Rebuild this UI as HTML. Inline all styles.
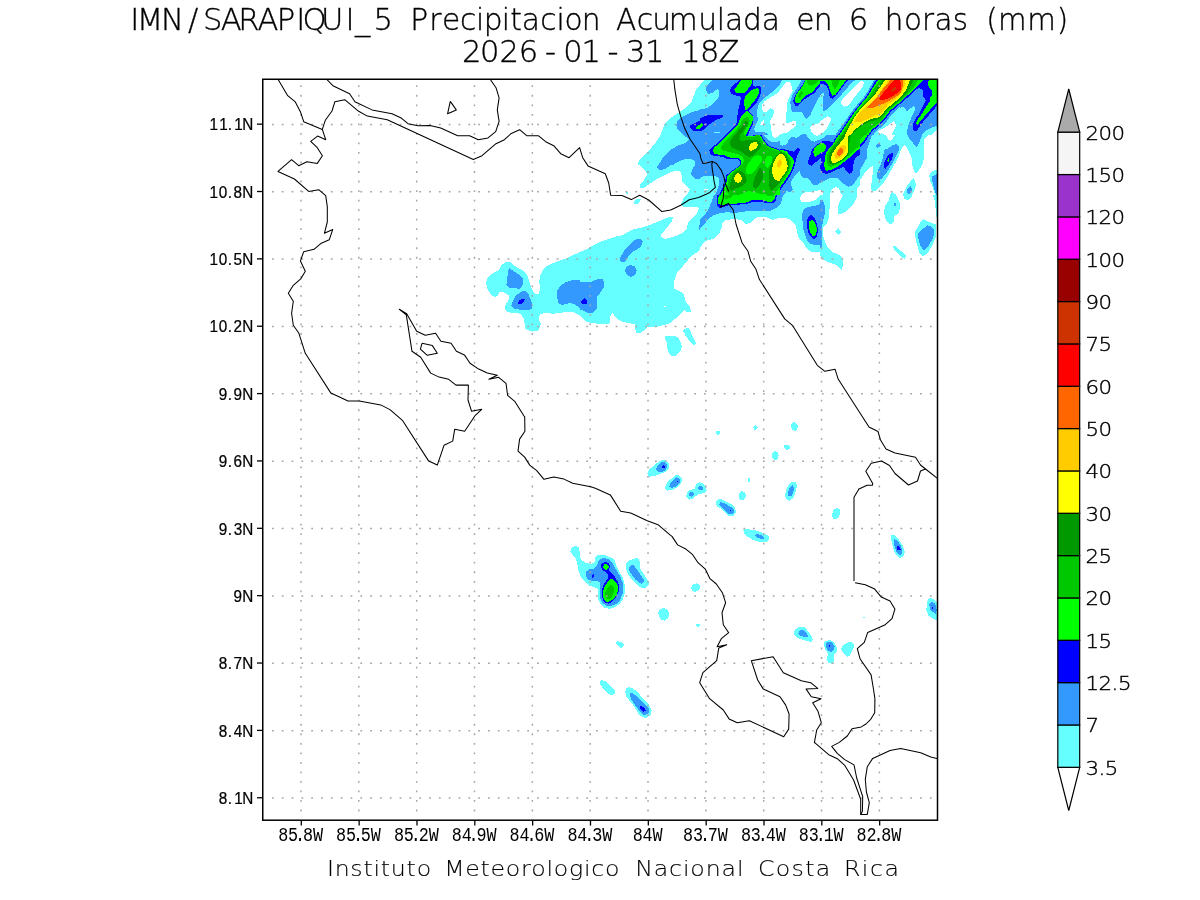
<!DOCTYPE html>
<html lang="es"><head><meta charset="utf-8">
<title>IMN/SARAPIQUI_5 Precipitacion Acumulada en 6 horas (mm)</title>
<style>
html,body{margin:0;padding:0;background:#fff;}
body{width:1200px;height:900px;overflow:hidden;}
svg{display:block;}
text{font-kerning:none;white-space:pre;}
.t{font-family:'DejaVu Sans Light','DejaVu Sans','Liberation Sans',sans-serif;font-weight:200;fill:#000;stroke:#000;stroke-width:0.35px;}
.cb{font-family:'DejaVu Sans Light','DejaVu Sans','Liberation Sans',sans-serif;font-weight:200;fill:#000;stroke:#000;stroke-width:0.4px;}
.k{font-family:'Liberation Mono','DejaVu Sans Mono',monospace;fill:#000;}
.ks{font-family:'Liberation Sans','DejaVu Sans',sans-serif;fill:#000;stroke:#000;stroke-width:0.25px;}
.f{font-family:'DejaVu Sans Light','DejaVu Sans','Liberation Sans',sans-serif;font-weight:200;fill:#000;stroke:#000;stroke-width:0.12px;}
</style></head><body>
<svg width="1200" height="900" viewBox="0 0 1200 900">
<rect x="0" y="0" width="1200" height="900" fill="#fff"/>
<defs><clipPath id="c"><rect x="262.75" y="79.25" width="674.75" height="740.95"/></clipPath></defs>
<g clip-path="url(#c)">
<defs>
<clipPath id="t0"><rect x="460" y="225" width="120" height="120"/></clipPath>
<clipPath id="t1"><rect x="580" y="75" width="120" height="90"/></clipPath>
<clipPath id="t2"><rect x="580" y="165" width="120" height="90"/></clipPath>
<clipPath id="t3"><rect x="580" y="255" width="120" height="90"/></clipPath>
<clipPath id="t4"><rect x="700" y="75" width="80" height="60"/></clipPath>
<clipPath id="t5"><rect x="700" y="135" width="80" height="60"/></clipPath>
<clipPath id="t6"><rect x="700" y="195" width="120" height="90"/></clipPath>
<clipPath id="t7"><rect x="780" y="75" width="40" height="60"/></clipPath>
<clipPath id="t8"><rect x="820" y="75" width="80" height="60"/></clipPath>
<clipPath id="t9"><rect x="900" y="75" width="40" height="60"/></clipPath>
<clipPath id="t10"><rect x="780" y="135" width="80" height="60"/></clipPath>
<clipPath id="t11"><rect x="820" y="195" width="120" height="90"/></clipPath>
<clipPath id="t12"><rect x="860" y="135" width="80" height="60"/></clipPath>
</defs>
<g shape-rendering="crispEdges" stroke="none">
<g clip-path="url(#t0)">
<rect x="460" y="225" width="120" height="120" fill="#ffffff"/>
<polygon fill="#66ffff" points="580.0,252.3 574.7,254.3 566.7,258.3 558.7,261.0 552.0,263.7 546.7,266.3 542.7,270.3 540.0,275.7 539.3,282.3 540.0,289.0 538.7,293.7 534.7,293.7 532.0,289.0 529.3,281.0 526.7,274.3 522.7,270.3 517.3,267.7 513.3,265.0 510.7,262.3 505.3,262.3 501.3,265.0 498.7,270.3 493.3,273.0 488.0,277.0 486.0,282.3 487.3,289.0 490.7,294.3 494.7,297.0 498.0,295.7 499.3,292.3 504.0,292.3 509.3,295.7 508.7,299.7 505.3,305.0 504.7,309.0 508.0,312.3 514.7,313.0 520.0,313.7 524.0,318.3 524.7,325.0 525.3,329.0 532.0,331.7 537.3,331.0 540.0,327.7 540.7,323.7 538.7,318.3 540.0,314.3 545.3,313.0 553.3,313.7 561.3,313.0 566.7,311.7 572.0,311.7 577.3,314.3 580.0,315.7"/>
<polygon fill="#3399ff" points="509.3,268.3 513.3,271.0 518.7,274.3 522.7,278.3 523.3,283.7 521.3,287.7 518.7,289.0 514.7,287.7 509.3,287.7 506.4,285.0 507.3,278.3 508.0,271.7"/>
<polygon fill="#3399ff" points="524.0,290.3 528.0,293.0 530.7,299.7 532.7,305.0 532.0,309.0 528.0,310.3 521.3,309.7 514.7,309.0 511.3,306.3 512.7,301.0 516.0,295.7 520.0,292.3"/>
<polygon fill="#3399ff" points="580.0,279.7 572.0,280.3 565.3,282.3 560.0,286.3 556.7,291.7 557.3,298.3 558.7,303.7 562.7,305.0 569.3,303.0 573.3,303.7 577.3,306.3 580.0,308.3"/>
<polygon fill="#0000ff" points="520.7,299.4 524.7,299.0 524.0,301.7 522.0,303.7 518.0,303.7 518.7,301.0"/>
</g>
<g clip-path="url(#t1)">
<rect x="580" y="75" width="120" height="90" fill="#ffffff"/>
<polygon fill="#66ffff" points="637.5,165.0 639.0,160.0 644.0,155.0 650.0,149.5 656.0,142.0 660.0,136.0 663.0,129.0 665.0,123.0 670.0,118.0 676.0,114.5 684.0,109.0 688.0,105.0 692.0,101.0 694.0,95.0 696.0,90.0 700.0,85.5 700.0,165.0"/>
<polygon fill="#3399ff" points="700.0,110.0 695.0,111.0 689.0,113.5 683.0,116.5 678.0,120.0 676.0,125.0 678.0,130.0 682.0,134.0 689.5,139.5 685.0,143.0 678.0,145.5 672.0,149.0 666.0,154.0 662.0,159.0 658.5,165.0 700.0,165.0"/>
<polygon fill="#66ffff" points="673.0,165.0 676.0,163.0 681.0,160.5 686.0,158.5 691.0,158.5 694.5,161.0 695.0,165.0"/>
<polygon fill="#0000ff" points="700.0,120.5 695.0,122.8 690.5,125.5 690.0,127.5 691.5,129.5 695.0,131.5 700.0,131.0"/>
<polygon fill="#00ff00" points="700.0,124.5 697.0,126.0 696.0,128.5 700.0,129.0"/>
</g>
<g clip-path="url(#t2)">
<rect x="580" y="165" width="120" height="90" fill="#ffffff"/>
<polygon fill="#66ffff" points="639.0,165.0 642.0,168.0 646.0,171.0 647.0,175.0 644.0,180.0 640.0,185.0 640.5,187.5 644.0,187.5 648.0,185.0 653.0,181.5 659.0,178.0 665.0,175.0 671.0,172.0 676.0,170.5 680.0,171.0 681.5,175.0 682.0,181.0 685.0,185.0 690.0,189.0 688.0,193.0 684.0,197.0 682.0,202.0 681.0,205.0 684.0,207.0 690.0,207.0 696.0,206.5 699.0,208.0 697.0,213.0 692.0,218.0 688.0,223.0 687.0,228.0 684.0,232.0 678.0,235.0 671.0,237.5 665.0,239.0 662.0,238.0 661.0,235.0 665.0,230.0 669.0,225.0 672.0,221.0 673.0,217.0 669.0,217.0 663.0,219.5 657.0,222.0 650.0,225.0 642.0,227.5 634.0,229.0 628.0,232.0 623.0,235.0 616.0,236.5 608.0,239.0 600.0,242.0 592.0,246.0 586.0,249.5 580.0,252.0 580.0,255.0 700.0,255.0 700.0,165.0"/>
<polygon fill="#ffffff" points="700.0,250.0 696.0,253.0 693.0,255.0 700.0,255.0"/>
<polygon fill="#66ffff" points="626.0,191.5 627.5,191.5 628.0,194.0 626.5,194.0"/>
<polygon fill="#66ffff" points="637.0,199.0 640.5,199.5 640.0,202.0 637.0,204.5 634.0,203.5 634.5,201.0"/>
<polygon fill="#3399ff" points="658.0,165.0 657.0,168.0 660.0,170.5 665.0,169.0 669.0,166.5 670.0,165.0"/>
<polygon fill="#3399ff" points="695.0,165.0 692.0,170.0 691.0,175.0 695.0,178.5 700.0,179.0 700.0,165.0"/>
<polygon fill="#3399ff" points="640.0,239.0 643.0,241.0 641.0,247.0 636.0,250.0 631.0,253.0 629.0,255.0 622.0,255.0 624.0,251.0 628.0,246.0 632.0,242.0 636.0,239.5"/>
<polygon fill="#3399ff" points="699.0,225.0 700.0,225.0 700.0,230.0 699.0,230.0"/>
</g>
<g clip-path="url(#t3)">
<rect x="580" y="255" width="120" height="90" fill="#ffffff"/>
<polygon fill="#66ffff" points="580.0,255.0 692.0,255.0 688.0,260.0 683.0,266.0 677.0,273.0 674.5,280.0 673.5,288.0 678.0,290.5 683.0,293.0 685.0,298.0 686.0,303.0 690.0,306.0 691.0,312.0 688.0,312.5 684.0,310.0 680.0,314.0 675.0,319.0 670.0,323.0 664.0,325.0 658.0,326.5 652.0,326.5 647.0,327.0 643.0,331.0 640.0,333.5 636.0,332.5 635.0,327.0 634.5,324.0 628.0,323.0 622.0,321.5 617.0,319.0 614.0,315.0 612.0,313.0 610.0,317.0 609.5,323.0 608.0,324.5 600.0,324.0 592.0,323.0 586.0,322.0 583.0,319.0 580.0,316.0"/>
<polygon fill="#ffffff" points="664.0,306.0 666.0,306.0 666.0,307.0 664.0,307.0"/>
<polygon fill="#66ffff" points="665.0,336.0 670.0,336.5 675.0,336.0 678.5,338.0 680.0,342.0 681.0,345.0 668.0,345.0 666.0,341.0 664.5,338.0"/>
<polygon fill="#66ffff" points="687.0,328.0 690.0,329.0 691.5,334.0 694.0,340.0 696.0,343.0 694.0,345.0 690.0,340.0 686.0,335.0 683.0,332.0 684.0,329.0"/>
<polygon fill="#3399ff" points="621.0,255.0 620.0,260.0 622.0,262.5 625.0,262.0 627.0,259.0 629.0,255.0"/>
<polygon fill="#3399ff" points="630.0,265.0 634.5,266.5 636.8,270.5 635.0,275.0 631.0,276.8 627.0,275.0 625.0,271.0 626.0,267.0"/>
<polygon fill="#3399ff" points="580.0,281.5 586.0,282.5 592.0,281.5 598.0,279.0 603.0,279.5 604.5,283.0 603.5,288.0 600.0,293.0 597.0,297.0 596.5,303.0 596.5,309.0 593.0,312.5 587.0,312.5 582.0,310.0 580.0,309.5"/>
<polygon fill="#0000ff" points="584.0,298.0 586.5,300.5 587.0,304.0 582.0,304.0 581.0,301.0"/>
</g>
<g clip-path="url(#t4)">
<rect x="700" y="75" width="80" height="60" fill="#3399ff"/>
<polygon fill="#66ffff" points="700.0,75.0 713.0,75.0 713.0,79.3 710.0,82.3 706.7,85.7 706.0,90.3 708.0,94.3 713.3,92.3 717.3,89.0 719.0,90.3 719.0,95.7 717.3,99.0 713.3,103.7 708.7,107.0 704.0,109.0 700.0,109.3"/>
<polygon fill="#ffffff" points="700.0,75.0 704.7,75.0 704.7,79.3 700.0,85.0"/>
<polygon fill="#66ffff" points="780.0,85.0 776.7,88.3 772.0,92.3 766.7,96.3 762.7,99.7 758.7,104.3 757.3,109.7 756.7,114.3 758.0,118.3 757.3,121.7 755.3,125.7 754.0,129.0 755.3,131.7 758.7,132.3 763.3,131.7 766.7,133.0 768.7,135.0 780.0,135.0"/>
<polygon fill="#ffffff" points="780.0,91.0 774.7,95.0 769.3,98.0 764.0,101.7 762.0,105.0 762.3,109.7 764.0,112.3 766.7,112.3 770.0,108.3 773.3,109.0 774.0,112.3 772.7,116.3 770.0,121.0 770.7,125.7 772.0,135.0 780.0,135.0"/>
<polygon fill="#ffffff" points="764.0,119.0 759.0,125.5 764.0,125.0"/>
<polygon fill="#66ffff" points="714.0,131.7 720.0,131.7 720.0,133.0 714.0,133.0"/>
<polygon fill="#0000ff" points="700.0,118.7 704.0,116.3 708.7,115.0 722.7,115.0 723.0,117.0 720.7,118.3 715.3,120.3 711.3,123.0 707.3,126.3 703.3,130.3 700.0,131.0"/>
<polygon fill="#00ff00" points="700.0,124.0 702.0,123.3 703.3,125.7 701.3,127.7 700.0,128.0"/>
<polygon fill="#0000ff" points="740.0,75.0 740.0,79.3 736.0,83.0 731.3,87.0 730.0,91.0 731.3,93.7 736.0,95.7 740.0,95.7 741.0,97.7 740.0,103.0 738.3,109.7 737.3,116.3 737.3,121.7 735.3,125.7 731.3,129.0 728.0,132.3 725.3,135.0 748.0,135.0 750.7,128.3 753.3,123.0 753.3,116.3 750.7,113.0 748.3,111.0 751.7,108.0 756.3,103.3 759.5,97.3 761.0,92.3 761.2,87.0 758.7,86.0 755.3,86.7 752.7,85.0 753.3,81.7 752.7,79.3 752.7,75.0"/>
<polygon fill="#00ff00" points="742.0,75.0 752.0,75.0 752.0,82.3 750.7,85.7 748.0,89.0 745.3,92.3 742.7,93.0 736.7,93.0 734.7,91.0 734.3,89.0 737.3,85.7 739.3,82.3 742.0,80.0"/>
<polygon fill="#00ff00" points="757.3,88.0 759.0,89.7 758.7,93.7 756.7,97.7 753.3,102.3 749.3,107.0 746.7,110.3 745.3,109.7 744.3,105.0 744.0,100.3 745.3,96.3 748.7,92.3 752.7,89.7"/>
<polygon fill="#00ff00" points="746.7,110.7 750.0,113.0 752.7,116.3 753.0,120.3 751.3,124.3 749.3,128.3 746.7,133.0 746.0,135.0 728.0,135.0 731.3,131.7 736.0,127.0 738.7,123.0 740.0,118.3 743.3,114.3"/>
<polygon fill="#00c800" points="746.7,117.0 749.3,118.3 749.7,121.7 748.0,125.7 745.3,130.3 743.3,135.0 731.3,135.0 735.3,131.0 739.3,126.3 741.3,121.7 744.0,118.3"/>
<polygon fill="#009900" points="746.7,121.0 748.0,122.3 746.7,125.7 744.0,129.7 741.3,133.7 740.0,135.0 734.0,135.0 738.0,131.0 741.3,127.0 743.3,123.7 745.0,121.7"/>
</g>
<g clip-path="url(#t5)">
<rect x="700" y="135" width="80" height="60" fill="#3399ff"/>
<polygon fill="#66ffff" points="700.0,177.7 704.0,176.3 710.0,175.7 715.3,176.3 718.7,177.7 719.0,183.0 718.0,188.3 716.0,193.0 715.3,195.0 700.0,195.0"/>
<polygon fill="#ffffff" points="704.0,189.0 708.0,189.0 708.0,190.0 704.0,190.0"/>
<polygon fill="#66ffff" points="764.0,135.0 766.7,138.3 769.3,141.0 773.3,142.3 777.3,141.7 780.0,141.0 780.0,135.0"/>
<polygon fill="#ffffff" points="772.0,135.0 772.7,136.7 774.7,138.0 777.3,137.0 779.3,135.0"/>
<polygon fill="#0000ff" points="726.0,135.0 722.0,138.3 717.3,143.0 712.7,147.0 709.3,150.3 710.0,153.7 713.3,155.7 718.7,156.3 723.3,157.0 726.7,159.0 732.0,159.3 738.0,159.3 740.0,161.0 740.0,164.3 737.3,167.0 733.3,169.7 729.3,173.0 726.0,175.7 725.3,180.3 724.7,183.7 722.7,187.7 720.7,191.0 719.3,195.0 780.0,195.0 780.0,149.7 776.0,148.3 772.0,147.0 768.0,145.0 766.0,142.3 763.3,138.3 761.3,135.0"/>
<polygon fill="#00ff00" points="727.3,135.0 723.3,139.0 718.7,143.7 714.0,147.7 713.0,150.3 714.3,153.7 718.7,154.7 724.0,155.0 728.0,157.3 733.3,158.0 738.7,158.0 741.0,160.3 741.0,164.3 738.7,167.0 734.7,169.7 730.7,173.0 727.3,176.3 726.7,181.0 726.0,184.3 724.0,188.3 722.0,191.7 720.7,195.0 780.0,195.0 780.0,150.7 775.3,149.0 771.3,147.7 767.3,145.7 764.7,142.3 762.0,138.3 760.0,135.0"/>
<polygon fill="#0000ff" points="746.0,135.0 746.7,136.3 754.7,136.3 755.3,135.0"/>
<polygon fill="#3399ff" points="748.0,135.0 748.3,135.8 752.7,135.8 753.3,135.0"/>
<polygon fill="#00c800" points="731.3,135.0 726.7,140.3 722.7,144.3 720.7,147.7 722.7,150.3 728.0,151.7 733.3,153.0 738.7,154.3 742.7,157.0 744.0,161.0 742.7,164.3 740.0,167.0 736.0,169.7 732.0,173.0 728.7,177.7 728.0,183.0 726.7,187.7 725.7,191.7 728.0,193.7 729.3,195.0 780.0,195.0 780.0,151.7 774.7,149.7 770.7,148.3 766.7,146.3 763.3,142.3 760.7,138.3 758.7,135.0 755.3,135.0 754.7,137.0 746.7,137.0 746.0,135.0"/>
<polygon fill="#00ff00" points="737.3,195.0 742.0,194.0 748.0,191.0 754.0,192.0 760.0,194.0 766.0,194.5 769.3,195.0"/>
<polygon fill="#00ff00" points="774.0,195.0 776.0,192.0 780.0,187.0 780.0,195.0"/>
<polygon fill="#00ff00" points="758.0,155.0 761.3,156.3 762.0,159.7 760.0,163.7 757.3,167.7 754.0,171.7 750.7,174.3 747.3,174.3 746.0,171.7 746.0,167.7 748.0,163.7 751.3,159.7 754.7,156.3"/>
<polygon fill="#00ff00" points="766.7,156.3 770.0,155.7 772.0,157.7 772.0,161.7 770.0,165.7 767.3,168.3 765.3,166.3 764.7,162.3 765.3,159.0"/>
<polygon fill="#009900" points="734.7,135.0 740.0,135.0 739.3,139.0 741.3,141.0 746.7,140.3 752.0,139.7 756.7,139.7 760.0,141.7 761.3,145.0 760.0,148.3 756.7,151.7 753.3,155.0 750.0,157.7 747.3,156.3 744.0,153.7 740.0,151.0 734.7,149.0 730.7,146.3 730.0,142.3 732.0,138.3"/>
<polygon fill="#009900" points="740.0,170.3 743.3,172.3 746.0,176.3 746.7,180.3 744.7,184.3 740.0,187.0 735.3,189.0 731.3,191.0 729.3,188.3 730.0,183.7 731.3,179.0 733.3,174.3 736.7,171.0"/>
<polygon fill="#009900" points="760.0,167.7 762.0,169.7 763.3,173.7 762.7,178.3 760.7,183.0 758.0,187.0 755.3,189.0 753.3,187.0 753.3,183.0 754.7,178.3 756.7,173.7 758.7,169.7"/>
<polygon fill="#009900" points="780.0,153.0 776.7,155.0 773.3,159.0 770.7,164.3 769.3,169.7 768.7,175.0 769.3,181.7 769.3,187.0 770.7,190.3 773.3,189.7 776.7,185.7 780.0,183.0"/>
<polygon fill="#ffff00" points="753.3,142.0 756.7,142.3 758.0,145.0 756.7,147.7 753.3,150.3 750.0,151.0 749.0,148.3 749.7,145.7 751.3,143.3"/>
<polygon fill="#ffff00" points="738.7,173.0 741.0,175.0 742.0,178.3 740.7,181.7 738.0,183.0 735.3,181.7 734.0,179.0 734.7,175.7 736.7,173.7"/>
<polygon fill="#ffff00" points="780.0,153.7 777.3,155.7 774.7,160.3 772.7,165.7 772.0,171.0 772.7,175.7 774.7,179.0 777.3,181.0 780.0,181.0"/>
<polygon fill="#ffcc00" points="780.0,159.7 778.0,161.7 776.7,165.0 777.7,167.0 780.0,167.7"/>
</g>
<g clip-path="url(#t6)">
<rect x="700" y="195" width="120" height="90" fill="#ffffff"/>
<polygon fill="#66ffff" points="700.0,248.0 705.0,241.0 713.0,239.0 719.0,234.0 721.5,228.0 722.5,223.0 725.0,220.0 734.0,219.0 741.0,220.0 746.0,224.0 750.0,223.0 754.0,219.0 759.0,216.5 764.0,216.5 769.0,218.5 773.0,220.0 778.0,218.0 783.0,217.5 789.0,219.0 793.0,222.0 796.0,226.0 797.0,232.0 799.0,239.0 804.0,244.0 807.0,249.0 811.0,251.5 816.0,252.0 820.0,252.5 820.0,195.0 700.0,195.0"/>
<polygon fill="#ffffff" points="801.0,195.0 800.0,199.0 802.0,202.5 810.0,202.0 815.0,200.0 819.0,197.0 820.0,195.0"/>
<polygon fill="#3399ff" points="714.0,195.0 712.0,201.0 709.0,208.0 705.0,215.0 700.0,219.0 700.0,228.0 704.0,225.0 708.0,219.0 713.0,215.5 720.0,213.0 728.0,212.2 735.0,213.2 742.0,211.8 750.0,211.0 760.0,211.5 770.0,211.0 776.0,208.0 780.0,205.0 782.0,200.0 783.0,195.0"/>
<polygon fill="#3399ff" points="820.0,204.0 814.0,206.0 808.0,207.0 804.0,209.0 802.0,214.0 802.5,221.0 803.0,228.0 805.0,235.0 807.0,240.0 810.0,244.0 815.0,245.0 820.0,244.5"/>
<polygon fill="#0000ff" points="717.5,195.0 716.5,200.0 716.5,205.0 720.0,208.0 725.0,206.5 729.0,205.0 734.0,205.5 740.0,204.5 747.0,204.0 752.0,202.0 757.0,201.5 764.0,202.5 769.0,203.5 773.0,203.0 776.0,200.0 777.0,195.0"/>
<polygon fill="#00ff00" points="719.0,195.0 718.0,200.0 718.5,204.0 721.0,205.0 725.0,204.5 729.0,203.5 734.0,204.0 740.0,203.0 746.0,202.5 751.0,200.5 756.0,199.5 762.0,200.0 768.0,202.0 772.0,201.5 774.5,199.0 776.0,195.0"/>
<polygon fill="#00c800" points="724.0,195.0 725.0,199.0 730.0,198.0 734.0,195.0"/>
<polygon fill="#00c800" points="766.0,195.0 769.0,196.5 773.0,196.0 774.5,195.0"/>
<polygon fill="#0000ff" points="811.5,215.0 815.0,218.0 817.0,224.0 818.0,230.0 817.0,236.0 814.0,239.5 811.0,237.0 808.0,232.0 807.0,226.0 807.0,220.0 809.0,216.0"/>
<polygon fill="#00ff00" points="812.0,220.0 815.0,222.0 816.5,227.0 816.5,232.0 815.0,236.0 813.0,236.5 810.5,233.0 809.0,228.0 808.5,224.0 809.5,221.0"/>
</g>
<g clip-path="url(#t7)">
<rect x="780" y="75" width="40" height="60" fill="#66ffff"/>
<polygon fill="#ffffff" points="780.0,89.7 782.7,86.3 786.0,82.3 790.0,82.0 792.3,88.3 792.7,91.0 788.7,98.3 787.0,103.7 787.0,108.3 786.0,115.0 786.0,123.3 791.3,121.7 795.7,121.0 796.0,125.7 793.3,128.3 790.0,130.3 786.7,133.0 780.0,134.0"/>
<polygon fill="#ffffff" points="829.3,116.0 831.0,119.0 829.3,123.0 826.7,127.0 823.3,131.7 820.0,135.0 814.0,135.0 811.3,131.7 810.0,127.7 811.3,125.7 816.0,124.3 820.0,123.0 824.0,120.3 826.7,117.7"/>
<polygon fill="#3399ff" points="780.0,75.0 782.0,75.0 782.0,80.0 780.0,83.7"/>
<polygon fill="#3399ff" points="802.0,75.0 802.0,79.3 800.0,83.0 797.3,87.7 794.0,92.3 792.0,96.3 790.3,101.7 791.0,108.3 792.3,112.3 797.3,112.0 802.0,112.3 804.7,117.7 806.7,118.7 810.0,115.7 812.0,111.0 814.7,105.7 817.3,100.3 820.0,95.7 822.7,92.3 824.0,93.0 823.3,97.7 822.7,103.0 822.7,108.3 823.7,111.7 826.7,109.7 830.7,107.0 834.0,103.0 837.3,99.0 841.3,94.3 845.3,89.7 849.3,85.7 853.3,82.3 856.0,79.3 856.0,75.0"/>
<polygon fill="#3399ff" points="802.0,135.0 802.7,134.0 805.3,134.0 806.0,135.0"/>
<polygon fill="#0000ff" points="804.7,75.0 804.7,80.3 802.7,84.3 799.3,89.0 796.0,93.7 794.0,97.7 793.3,101.7 795.3,105.7 798.0,106.0 800.7,103.0 804.0,99.7 808.0,97.0 811.3,95.0 814.7,93.0 817.3,89.0 820.0,86.3 822.7,84.3 825.3,85.0 828.0,88.3 829.3,93.0 829.3,97.7 832.7,98.7 836.0,95.7 839.3,91.7 843.3,86.3 846.7,82.3 849.3,79.3 849.3,75.0"/>
<polygon fill="#00ff00" points="805.3,75.0 805.3,80.3 802.7,85.7 799.3,90.3 796.0,95.0 795.0,98.3 795.0,102.3 799.3,103.0 802.0,99.7 806.7,95.0 810.0,93.7 813.3,91.7 816.0,87.7 819.3,83.7 822.7,81.3 825.3,81.7 827.3,83.7 829.3,87.7 830.7,92.3 832.0,95.7 835.3,95.0 838.7,90.3 842.0,85.7 845.3,81.0 846.7,79.3 846.7,75.0"/>
<polygon fill="#00c800" points="807.3,75.0 820.0,75.0 820.0,80.0 817.3,82.3 814.7,84.3 811.3,85.7 808.7,85.0 807.0,82.3"/>
<polygon fill="#00c800" points="801.3,91.0 803.7,93.0 801.3,95.7 799.3,98.3 798.0,97.0 798.7,93.7"/>
<polygon fill="#00c800" points="831.3,75.0 840.0,75.0 840.0,79.3 839.3,82.3 838.0,85.7 835.3,89.3 833.3,87.0 832.0,83.7"/>
</g>
<g clip-path="url(#t8)">
<rect x="820" y="75" width="80" height="60" fill="#66ffff"/>
<polygon fill="#ffffff" points="862.7,81.3 864.0,83.0 862.7,86.3 860.0,90.3 856.7,94.3 853.3,98.3 850.7,102.3 848.0,105.7 844.7,106.7 842.0,105.0 841.0,102.3 842.7,99.0 846.7,95.0 850.7,91.0 854.7,87.0 858.7,83.0 860.7,81.3"/>
<polygon fill="#ffffff" points="820.0,121.7 823.3,119.0 827.3,116.3 830.0,117.0 831.0,119.7 829.3,123.7 826.7,128.3 823.3,132.3 820.0,134.3"/>
<polygon fill="#ffffff" points="894.0,121.0 895.3,123.0 896.0,125.7 894.7,128.3 893.3,131.0 892.0,135.0 882.0,135.0 878.7,133.0 878.3,131.0 882.0,129.0 886.7,126.3 890.7,123.0"/>
<polygon fill="#66ffff" points="880.0,135.0 880.7,133.3 883.3,133.7 884.0,135.0"/>
<polygon fill="#3399ff" points="820.0,75.0 856.0,75.0 856.0,80.0 852.0,82.3 848.0,87.0 844.0,91.7 840.0,96.3 836.0,101.0 832.0,104.3 826.7,109.7 823.7,111.7 822.7,108.3 822.7,103.0 823.3,97.7 824.0,93.0 822.7,92.3 820.0,95.7"/>
<polygon fill="#0000ff" points="820.0,75.0 820.0,84.3 822.7,84.0 825.3,85.0 828.0,88.3 829.3,93.0 829.7,97.7 832.7,98.7 836.0,95.7 840.0,90.3 844.0,85.0 848.0,80.0 848.0,75.0"/>
<polygon fill="#00ff00" points="820.0,75.0 820.0,81.3 822.7,80.7 825.3,81.7 827.3,83.7 829.3,88.3 830.7,92.3 832.0,95.7 835.3,95.0 838.7,90.3 842.0,85.7 846.0,80.0 846.0,75.0"/>
<polygon fill="#00c800" points="831.3,75.0 840.0,75.0 840.0,80.0 838.7,83.7 836.0,88.3 835.0,89.3 833.3,87.0 832.0,83.7 831.3,80.0"/>
<polygon fill="#3399ff" points="835.3,135.0 840.0,128.3 844.0,123.0 848.0,117.0 851.3,112.3 855.3,107.0 860.0,101.7 864.0,97.0 866.7,93.0 869.3,88.3 872.0,83.7 874.0,80.0 874.0,75.0 900.0,75.0 900.0,106.3 898.0,108.3 894.7,111.7 891.3,115.0 888.7,118.3 886.7,121.7 884.0,124.3 881.3,127.0 878.0,129.7 875.3,132.3 873.3,135.0"/>
<polygon fill="#0000ff" points="838.0,135.0 842.0,129.0 846.0,123.0 849.3,117.7 852.7,113.0 856.7,107.7 860.7,103.0 865.3,97.7 868.0,93.7 870.7,89.0 873.3,84.3 876.0,80.0 876.0,75.0 900.0,75.0 900.0,103.7 897.3,106.3 893.3,109.7 890.0,113.0 887.3,116.3 885.3,119.7 882.7,122.3 880.0,125.0 876.7,127.7 874.0,129.7 871.3,132.3 870.0,135.0"/>
<polygon fill="#00ff00" points="839.3,135.0 843.3,129.0 847.3,123.0 850.7,117.7 854.0,113.0 858.0,107.7 862.0,103.0 866.7,97.7 869.3,93.7 872.0,89.0 875.3,84.3 878.0,80.0 878.0,75.0 900.0,75.0 900.0,102.3 896.0,105.7 892.0,109.0 888.7,112.3 886.0,115.7 884.0,119.0 881.3,121.7 878.7,124.3 875.3,127.0 872.7,129.0 870.0,132.3 868.7,135.0"/>
<polygon fill="#00c800" points="841.0,135.0 845.0,129.0 849.0,123.0 852.3,117.7 855.7,113.0 859.7,107.7 863.7,103.0 868.3,97.7 871.0,93.7 873.7,89.0 877.0,84.3 880.0,80.0 880.0,75.0 900.0,75.0 900.0,101.0 897.3,103.0 893.3,106.3 890.0,109.7 886.7,113.0 884.0,116.3 882.7,119.0 880.0,121.7 876.7,124.3 873.3,126.3 870.7,129.0 868.0,132.3 866.7,135.0"/>
<polygon fill="#009900" points="842.7,135.0 846.7,129.0 850.3,123.0 853.3,118.3 856.7,113.3 860.7,108.3 865.3,103.3 870.3,97.7 873.3,93.7 876.3,89.0 879.7,84.3 882.7,80.0 882.7,75.0 900.0,75.0 900.0,99.7 896.7,102.3 892.7,105.7 888.7,109.0 885.3,112.3 883.3,115.7 881.3,117.7 878.7,119.0 874.7,120.3 870.7,121.0 866.7,123.0 862.7,125.0 859.3,127.7 855.3,131.7 852.0,135.0"/>
<polygon fill="#ffff00" points="844.7,135.0 848.0,129.0 851.3,123.0 854.0,118.3 857.3,113.0 861.3,108.3 866.7,103.0 872.0,97.7 876.0,93.0 879.3,88.3 882.7,83.7 885.0,80.0 885.0,75.0 900.0,75.0 900.0,97.7 896.0,101.0 892.0,104.3 888.0,107.7 884.7,111.0 882.7,114.3 880.7,116.3 877.3,117.7 873.3,118.3 869.3,119.7 865.3,121.7 861.3,124.3 857.3,127.7 853.3,131.7 850.3,135.0"/>
<polygon fill="#ffcc00" points="854.0,121.7 856.0,117.7 859.3,113.0 863.3,109.7 868.0,105.0 873.3,100.3 877.3,95.7 880.7,91.0 884.0,86.3 887.3,81.7 888.7,80.0 888.7,75.0 900.0,75.0 900.0,95.0 894.7,99.7 890.0,103.0 886.7,106.3 884.0,109.7 882.0,112.3 878.0,114.3 873.3,116.3 868.0,119.0 863.3,121.0 858.7,122.3"/>
<polygon fill="#ff6600" points="866.7,107.7 870.7,103.7 875.3,99.7 878.7,95.0 882.0,90.3 885.3,86.3 888.7,82.3 890.7,80.0 890.7,75.0 900.0,75.0 900.0,93.7 894.7,97.7 890.0,100.3 885.3,103.0 881.3,104.3 876.7,106.3 872.0,108.3"/>
<polygon fill="#ff0000" points="878.7,99.0 881.3,95.0 884.7,91.0 888.0,87.0 891.3,83.0 894.0,80.0 894.0,75.0 900.0,75.0 900.0,91.0 897.3,93.0 893.3,95.7 888.0,98.3 883.3,100.3"/>
<polygon fill="#cc3300" points="895.3,86.3 896.3,88.3 894.7,91.0 892.3,91.7 891.0,90.3 892.7,88.3"/>
</g>
<g clip-path="url(#t9)">
<rect x="900" y="75" width="40" height="60" fill="#3399ff"/>
<polygon fill="#66ffff" points="900.0,107.7 903.3,107.0 905.3,108.3 906.0,111.0 907.3,111.7 910.7,108.3 913.3,106.0 915.0,107.0 914.7,111.0 912.7,115.0 910.7,119.0 909.3,123.0 908.0,127.0 907.3,130.3 907.3,135.0 900.0,135.0"/>
<polygon fill="#66ffff" points="922.0,135.0 924.0,132.3 927.3,129.7 931.3,127.7 935.3,126.3 940.0,125.7 940.0,135.0"/>
<polygon fill="#ffffff" points="932.0,135.0 934.0,132.3 936.0,130.3 937.5,128.3 940.0,127.7 940.0,135.0"/>
<polygon fill="#0000ff" points="900.0,75.0 900.0,104.7 904.7,100.0 909.3,96.0 913.3,92.7 917.3,88.7 919.3,88.0 921.3,89.0 923.0,91.0 923.3,97.0 926.0,100.3 924.0,104.3 921.3,109.7 918.7,114.3 915.3,119.0 913.3,123.0 913.0,130.3 916.7,131.0 918.7,127.7 922.7,122.3 926.7,117.7 930.7,113.0 934.7,108.3 940.0,103.0 940.0,75.0"/>
<polygon fill="#00ff00" points="900.0,75.0 900.0,102.3 903.3,99.0 908.0,95.0 912.0,91.7 916.0,87.7 920.0,83.0 924.7,79.3 924.7,75.0"/>
<polygon fill="#00ff00" points="928.7,75.0 928.7,79.3 928.0,85.7 930.0,88.3 932.0,90.3 932.0,95.0 930.0,97.7 930.0,101.0 927.3,105.0 924.0,110.3 920.0,116.3 916.7,121.0 916.0,123.7 917.3,125.0 920.0,121.7 924.0,117.0 928.0,112.3 932.0,107.7 936.0,103.7 940.0,100.3 940.0,75.0"/>
<polygon fill="#00c800" points="900.0,75.0 900.0,101.0 904.0,97.0 908.0,93.7 912.0,89.7 915.3,85.0 918.0,80.0 918.0,75.0"/>
<polygon fill="#009900" points="900.0,75.0 900.0,99.7 903.3,96.3 906.7,93.0 909.3,89.0 911.3,84.3 913.3,80.0 913.3,75.0"/>
<polygon fill="#ffff00" points="900.0,75.0 900.0,97.7 902.7,94.3 905.3,91.0 907.3,87.0 908.7,83.0 910.0,80.0 910.0,75.0"/>
<polygon fill="#ffcc00" points="900.0,75.0 900.0,95.0 902.0,92.3 903.3,89.0 904.7,85.0 905.3,81.7 906.0,79.3 906.0,75.0"/>
<polygon fill="#ff6600" points="900.0,75.0 900.0,93.7 901.3,91.0 902.3,87.7 903.0,84.3 903.3,81.7 903.7,79.3 903.7,75.0"/>
<polygon fill="#ff0000" points="900.0,81.0 900.7,82.3 901.3,85.0 901.0,88.3 900.0,91.0"/>
</g>
<g clip-path="url(#t10)">
<rect x="780" y="135" width="80" height="60" fill="#3399ff"/>
<polygon fill="#66ffff" points="780.0,135.0 800.7,135.0 800.0,136.3 796.0,137.7 792.0,137.0 788.7,139.0 788.0,142.3 785.3,145.0 782.7,145.7 780.0,144.3"/>
<polygon fill="#66ffff" points="806.7,135.0 808.0,137.7 810.7,140.3 814.0,141.7 818.0,140.3 821.3,139.0 824.0,137.7 826.7,135.0"/>
<polygon fill="#ffffff" points="816.0,135.0 816.3,135.8 818.0,135.8 818.3,135.0"/>
<polygon fill="#66ffff" points="784.0,195.0 786.7,191.0 790.0,192.3 792.7,189.7 791.3,185.0 791.0,181.7 794.0,177.0 797.3,173.0 799.7,171.3 800.7,175.0 802.7,177.7 808.0,178.3 810.7,181.7 813.3,184.7 817.3,184.7 821.3,182.3 826.0,179.7 830.7,178.0 837.3,178.0 840.0,180.3 843.3,183.7 848.0,186.7 852.0,185.7 855.3,181.7 858.0,177.7 860.0,175.0 860.0,195.0"/>
<polygon fill="#ffffff" points="802.0,195.0 803.3,193.0 808.0,191.7 813.3,191.7 818.7,190.3 822.0,190.3 823.3,193.0 822.7,195.0"/>
<polygon fill="#ffffff" points="830.0,195.0 830.7,191.7 832.7,188.3 836.0,187.0 838.7,188.3 840.0,191.7 842.0,195.0"/>
<polygon fill="#ffffff" points="857.3,195.0 857.3,188.3 858.7,186.3 860.0,185.7 860.0,195.0"/>
<polygon fill="#0000ff" points="780.0,149.0 784.0,149.3 788.0,150.3 793.3,151.7 799.3,147.0 799.7,150.3 797.3,155.0 796.0,160.3 794.7,165.0 792.7,171.0 790.0,176.3 786.7,181.0 783.3,185.7 780.0,190.3"/>
<polygon fill="#00ff00" points="780.0,150.0 784.0,150.3 787.3,151.7 789.3,155.0 792.7,157.7 794.0,161.0 793.3,165.0 791.7,169.7 789.3,174.3 786.0,179.0 782.7,183.7 780.0,187.7"/>
<polygon fill="#00c800" points="780.0,151.3 784.0,151.7 786.7,153.7 788.7,157.0 790.7,160.3 791.0,164.3 790.0,168.3 788.0,173.0 785.3,177.0 782.0,181.7 780.0,184.3"/>
<polygon fill="#009900" points="780.0,152.3 783.3,152.7 786.0,155.0 787.7,158.3 789.3,161.7 789.3,165.0 788.7,168.3 786.7,172.3 784.0,176.3 781.3,179.7 780.0,181.7"/>
<polygon fill="#ffff00" points="780.0,153.7 782.7,154.0 784.7,156.3 786.0,159.7 787.3,163.0 787.7,166.3 786.7,170.3 784.7,173.7 782.0,177.0 780.0,179.3"/>
<polygon fill="#ffcc00" points="780.0,158.3 781.3,160.3 782.0,163.0 781.3,165.7 780.0,167.0"/>
<polygon fill="#0000ff" points="837.3,135.0 834.7,139.0 833.3,142.3 830.7,141.7 826.7,141.0 822.7,141.3 818.7,143.7 814.7,146.3 812.0,149.7 810.7,154.3 809.3,157.7 808.0,161.7 808.7,164.3 811.3,165.7 814.0,163.7 817.3,161.0 820.7,158.3 820.7,163.0 820.3,168.3 821.3,172.3 825.3,173.7 828.0,173.7 831.3,172.3 835.3,170.3 840.0,168.3 844.0,167.0 846.0,171.0 848.7,173.7 852.0,173.0 853.0,169.7 853.3,165.0 854.0,160.3 856.7,157.0 860.0,154.3 860.0,135.0"/>
<polygon fill="#00ff00" points="823.3,143.0 825.7,145.0 826.0,148.3 824.7,151.0 821.3,153.0 818.0,155.0 815.3,156.7 813.7,154.3 813.3,151.0 814.7,147.7 818.0,145.0 820.7,143.3"/>
<polygon fill="#00ff00" points="838.7,135.0 836.0,139.0 833.3,143.7 830.0,147.7 826.7,151.7 825.3,155.7 824.7,160.3 824.3,165.0 824.7,169.0 826.7,170.7 830.0,170.3 834.0,168.3 838.0,166.3 842.0,163.7 846.0,160.3 849.3,157.7 853.3,154.3 856.7,151.0 860.0,148.3 860.0,135.0"/>
<polygon fill="#00c800" points="840.0,135.0 837.3,139.7 834.0,144.3 830.7,148.3 828.0,152.3 826.7,156.3 826.7,161.7 828.0,165.7 830.7,167.0 834.0,165.7 838.0,163.7 842.0,161.0 845.3,158.3 849.3,155.0 853.3,151.7 856.7,148.3 860.0,145.7 860.0,135.0"/>
<polygon fill="#009900" points="842.0,135.0 839.3,139.7 836.0,144.3 832.7,148.3 830.0,153.0 828.7,157.0 828.7,161.0 830.0,163.7 832.7,164.7 836.0,164.0 840.0,162.0 844.0,159.3 847.3,156.3 849.3,152.3 849.3,143.7 850.0,139.0 851.3,135.0"/>
<polygon fill="#ffff00" points="845.3,135.0 848.7,135.0 848.0,139.0 848.0,143.0 848.0,147.0 848.0,151.0 846.7,155.0 843.3,158.3 839.3,161.0 836.0,162.7 832.7,163.0 831.3,161.0 831.0,157.7 832.0,154.3 834.0,151.0 836.7,147.0 840.0,143.0 843.3,139.0"/>
<polygon fill="#ffcc00" points="844.0,145.0 846.0,147.0 845.3,151.0 843.3,154.3 840.0,157.7 836.7,159.0 834.7,157.7 834.3,155.0 836.0,151.7 838.7,148.3 841.3,145.7"/>
<polygon fill="#ff6600" points="842.0,148.0 843.0,149.7 842.7,152.3 840.7,155.0 838.7,156.0 837.3,155.0 837.3,152.3 838.7,150.0 840.3,148.3"/>
</g>
<g clip-path="url(#t11)">
<rect x="820" y="195" width="120" height="90" fill="#ffffff"/>
<polygon fill="#66ffff" points="820.0,195.0 829.5,195.0 830.5,201.0 829.5,209.0 829.0,218.0 827.0,223.0 823.0,227.0 822.5,233.0 824.0,239.0 827.0,246.0 832.0,252.0 838.0,254.5 842.0,257.0 843.0,263.0 842.0,271.0 836.0,265.0 830.0,263.0 825.0,260.5 820.0,255.0"/>
<polygon fill="#66ffff" points="843.0,195.0 840.0,201.0 837.5,207.0 837.5,213.0 840.0,214.5 845.0,212.0 850.0,208.0 854.0,203.0 856.5,198.0 857.0,195.0"/>
<polygon fill="#66ffff" points="838.2,228.0 841.0,232.0 838.2,235.0 835.0,232.0"/>
<polygon fill="#66ffff" points="890.0,195.0 889.0,200.0 885.0,206.0 884.0,212.0 885.0,218.0 888.0,223.0 891.5,224.5 894.0,221.0 894.5,216.0 899.0,213.0 900.0,208.0 899.5,202.0 897.0,197.0 896.0,195.0"/>
<polygon fill="#66ffff" points="903.0,195.0 904.5,198.5 907.0,200.0 910.0,199.0 912.0,196.0 912.0,195.0"/>
<polygon fill="#66ffff" points="933.0,195.0 935.0,201.0 935.5,208.0 936.0,217.0 937.5,217.0 940.0,217.0 940.0,195.0"/>
<polygon fill="#66ffff" points="923.0,219.0 927.0,221.0 932.0,223.0 936.0,224.5 936.5,230.0 936.0,237.0 933.0,244.0 929.0,251.0 925.0,255.0 922.0,256.0 919.0,253.0 918.0,247.0 916.0,241.0 915.0,235.0 915.5,231.0 918.0,227.0 920.0,223.0"/>
<polygon fill="#66ffff" points="893.5,246.0 896.0,246.5 901.0,251.0 906.0,256.0 904.5,259.0 899.0,255.0 895.0,251.0 893.0,247.5"/>
<polygon fill="#3399ff" points="820.0,199.5 823.0,200.0 824.5,205.0 824.5,215.0 823.0,221.0 822.0,228.0 822.0,237.0 822.0,247.0 820.0,248.0"/>
<polygon fill="#3399ff" points="893.5,202.5 895.5,202.5 895.5,205.5 893.5,205.5"/>
<polygon fill="#3399ff" points="927.0,225.0 931.0,226.5 934.0,229.0 934.0,235.0 932.0,240.0 929.0,245.0 925.0,249.5 923.0,249.5 920.0,245.0 918.5,239.0 918.0,234.0 920.0,231.0 924.0,228.0"/>
<polygon fill="#3399ff" points="936.5,195.0 936.5,199.5 937.5,199.5 940.0,199.5 940.0,195.0"/>
</g>
<g clip-path="url(#t12)">
<rect x="860" y="135" width="80" height="60" fill="#ffffff"/>
<polygon fill="#66ffff" points="860.0,135.0 929.3,135.0 926.0,137.0 924.0,140.3 924.0,148.3 924.0,155.0 923.3,161.7 922.0,165.7 918.7,170.3 916.0,173.7 914.0,171.0 912.7,167.0 912.0,161.7 911.3,156.3 909.3,152.3 906.7,147.7 904.7,145.0 902.7,147.0 900.7,151.0 898.7,156.3 896.0,161.7 893.3,166.3 890.7,171.0 888.0,175.7 885.3,180.3 882.0,185.0 878.7,188.3 875.3,191.0 872.0,191.7 871.0,188.3 871.3,184.3 872.0,179.0 872.7,173.7 873.3,168.3 872.7,166.3 870.0,167.7 866.7,170.3 864.0,173.7 862.0,177.0 860.0,179.0"/>
<polygon fill="#ffffff" points="886.0,135.0 886.7,137.0 888.7,140.3 890.7,140.7 892.7,138.3 894.7,135.7 895.0,135.0"/>
<polygon fill="#66ffff" points="913.3,178.0 914.7,180.3 916.0,184.3 915.3,188.3 913.3,192.3 912.0,195.0 902.7,195.0 904.0,191.7 906.0,187.7 908.7,183.7 911.3,180.3"/>
<polygon fill="#66ffff" points="890.0,195.0 890.7,193.0 892.7,192.3 894.7,193.7 896.0,195.0"/>
<polygon fill="#66ffff" points="937.5,169.7 934.7,170.3 931.3,171.7 929.3,175.0 930.0,180.3 932.0,185.7 934.0,191.0 935.3,195.0 940.0,195.0 940.0,169.7"/>
<polygon fill="#3399ff" points="860.0,135.0 872.0,135.0 870.7,138.3 869.3,143.0 867.3,148.3 866.7,153.7 866.7,158.3 864.0,163.0 861.3,167.7 860.0,169.7"/>
<polygon fill="#3399ff" points="878.7,142.7 880.7,145.0 880.0,147.3 876.7,147.7 876.0,145.7"/>
<polygon fill="#3399ff" points="896.0,144.0 898.7,146.3 898.7,150.3 896.7,155.0 894.0,160.3 891.3,165.0 888.7,169.7 885.3,174.3 882.0,178.3 879.3,179.7 877.3,177.7 877.0,173.7 878.7,168.3 881.3,163.0 882.7,158.3 883.3,154.3 884.7,149.7 888.0,148.3 892.0,145.7"/>
<polygon fill="#3399ff" points="907.3,135.0 909.3,138.3 912.0,141.7 914.7,145.0 916.7,147.0 918.7,143.7 920.7,139.0 922.0,135.0"/>
<polygon fill="#3399ff" points="910.3,186.0 912.0,188.3 911.3,191.7 909.3,194.0 907.3,193.0 907.0,190.3 908.3,188.0"/>
<polygon fill="#3399ff" points="937.5,173.7 934.7,175.0 932.3,176.3 932.0,180.3 933.3,185.7 934.7,190.3 936.0,195.0 940.0,195.0 940.0,173.7"/>
<polygon fill="#0000ff" points="860.0,135.0 869.0,135.0 867.3,138.3 864.7,142.3 862.0,145.7 860.0,147.7"/>
<polygon fill="#00ff00" points="860.0,135.0 867.3,135.0 866.0,137.7 863.3,141.0 861.3,143.7 860.0,145.0"/>
<polygon fill="#00c800" points="860.0,135.0 864.0,135.0 862.0,137.7 860.0,139.7"/>
<polygon fill="#0000ff" points="892.7,153.0 893.0,155.7 892.0,159.0 890.0,162.3 887.3,166.3 885.3,169.0 884.0,167.0 884.0,163.7 885.3,160.3 887.3,156.3 890.0,153.7"/>
<polygon fill="#00ff00" points="888.3,158.0 889.0,158.3 889.0,161.7 888.0,161.7 887.0,160.3 887.7,159.7"/>
</g>
<polygon fill="#66ffff" points="664.7,337.3 670.7,336.0 676.0,336.7 680.0,340.7 682.0,346.7 680.7,351.3 677.3,354.7 674.0,356.7 670.7,355.3 668.0,351.3 666.7,346.0 667.3,342.0"/>
<polygon fill="#66ffff" points="683.3,330.0 690.0,330.0 692.7,336.7 696.0,342.7 693.3,344.7 689.3,340.7 685.3,335.3"/>
<polygon fill="#66ffff" points="718.0,430.3 720.7,432.0 719.3,434.7 717.3,435.3 716.0,433.3 716.3,431.3"/>
<polygon fill="#66ffff" points="755.3,424.4 758.0,427.6 755.3,430.7 753.1,427.6"/>
<polygon fill="#66ffff" points="794.0,422.0 797.3,424.0 798.0,427.3 796.0,430.7 792.7,430.3 790.9,427.3 791.3,424.0"/>
<polygon fill="#66ffff" points="784.0,445.3 789.3,445.3 790.0,448.7 786.7,450.0 784.0,448.0"/>
<polygon fill="#66ffff" points="775.3,450.9 778.0,452.7 778.7,456.0 777.3,459.3 774.7,460.0 772.3,458.0 772.0,454.0 773.3,451.7"/>
<polygon fill="#66ffff" points="660.0,460.7 665.3,460.0 668.7,463.3 668.7,468.7 665.3,472.0 660.0,474.0 654.7,476.0 649.3,476.7 647.3,474.0 648.7,470.0 653.3,466.0 657.3,462.7"/>
<polygon fill="#3399ff" points="661.3,462.0 666.0,462.7 667.3,466.7 665.3,470.7 661.3,472.0 657.3,471.3 656.0,468.7 658.0,465.3"/>
<polygon fill="#0000ff" points="664.0,465.1 666.0,467.3 662.0,468.0 661.3,467.1"/>
<polygon fill="#66ffff" points="675.3,475.3 679.3,475.3 682.0,478.7 681.3,483.3 677.3,487.3 672.0,490.0 666.7,490.7 664.4,488.0 666.7,483.3 671.3,478.7"/>
<polygon fill="#3399ff" points="676.7,477.3 680.0,479.3 680.0,482.7 676.7,486.0 672.0,488.0 669.3,486.7 670.0,483.3 673.3,480.0"/>
<polygon fill="#0000ff" points="677.1,480.9 678.1,480.9 678.1,482.0 677.1,482.0"/>
<polygon fill="#66ffff" points="698.7,482.4 702.0,482.7 705.3,486.0 706.7,490.7 704.0,493.3 698.7,494.0 696.0,496.0 693.3,498.7 689.3,499.7 686.4,497.3 686.7,492.7 690.0,490.0 694.7,488.7 696.0,484.7"/>
<polygon fill="#3399ff" points="700.0,485.3 702.7,486.7 702.7,489.6 699.3,490.0 698.0,487.7"/>
<polygon fill="#3399ff" points="690.0,492.3 693.3,492.0 693.7,494.7 691.3,496.7 688.7,496.0 688.7,493.6"/>
<polygon fill="#66ffff" points="748.3,478.3 749.9,478.3 749.9,482.0 748.3,482.0"/>
<polygon fill="#66ffff" points="742.0,490.9 744.7,492.0 746.0,495.3 744.7,499.3 742.0,500.7 739.3,498.7 738.9,494.7 740.0,492.0"/>
<polygon fill="#66ffff" points="718.7,499.1 722.7,499.6 726.7,502.0 732.0,504.7 735.3,507.3 735.7,512.7 733.3,516.0 729.3,516.3 725.3,512.7 721.3,508.7 717.3,506.7 715.6,503.3 716.3,500.7"/>
<polygon fill="#3399ff" points="720.0,502.0 724.7,503.3 729.3,506.0 733.3,508.0 734.0,512.0 732.0,514.4 728.7,514.0 725.3,510.7 722.0,507.3 719.3,505.3"/>
<polygon fill="#0000ff" points="730.0,509.6 731.3,509.6 731.3,510.9 730.0,510.9"/>
<polygon fill="#66ffff" points="792.0,482.0 796.0,482.4 797.1,486.0 795.3,492.7 792.7,498.7 789.3,500.7 786.0,498.7 785.1,494.7 786.7,488.7 789.3,484.0"/>
<polygon fill="#3399ff" points="792.7,485.3 794.0,488.0 793.3,492.0 791.3,496.0 788.7,496.7 788.0,493.3 789.3,488.7"/>
<polygon fill="#66ffff" points="745.3,528.7 750.7,529.6 757.3,530.7 764.0,533.3 768.7,536.0 769.3,539.3 766.0,542.0 760.0,542.0 753.3,540.0 747.3,536.7 744.0,533.3 743.3,530.7"/>
<polygon fill="#3399ff" points="756.0,534.0 760.7,534.7 764.7,538.0 762.7,539.3 758.0,538.0 754.7,535.7"/>
<polygon fill="#66ffff" points="836.5,508.0 839.5,509.0 840.5,513.0 839.0,516.5 836.0,519.0 833.0,518.5 832.0,515.0 833.0,511.0 834.5,509.0"/>
<polygon fill="#66ffff" points="891.2,535.2 895.0,535.5 899.0,540.0 903.0,546.0 904.8,552.0 903.5,556.5 900.0,558.0 897.0,556.0 894.0,551.0 892.5,545.0 891.2,540.0"/>
<polygon fill="#3399ff" points="894.5,539.0 897.5,541.0 901.0,546.0 902.5,551.0 901.5,554.5 899.0,554.5 896.5,551.5 894.5,546.0 893.8,542.0"/>
<polygon fill="#0000ff" points="897.8,545.0 900.0,547.0 900.8,549.5 899.0,550.8 897.2,549.5 896.8,547.0"/>
<polygon fill="#66ffff" points="930.0,597.3 933.3,599.3 936.7,602.7 938.0,609.3 938.0,621.3 933.3,618.7 928.7,616.0 926.4,610.7 926.7,604.0 928.0,599.3"/>
<polygon fill="#3399ff" points="932.0,601.6 935.3,604.0 936.7,609.3 936.0,614.0 932.7,612.0 930.0,609.3 929.3,604.7"/>
<polygon fill="#0000ff" points="932.0,606.7 933.1,606.7 933.1,608.7 932.0,608.7"/>
<polygon fill="#66ffff" points="862.7,616.9 864.7,616.9 864.7,617.7 862.7,617.7"/>
<polygon fill="#66ffff" points="798.7,627.3 804.7,627.3 808.0,631.3 811.3,636.0 812.7,639.3 811.3,642.0 806.7,641.1 801.3,639.3 796.0,637.3 794.0,634.0 794.7,630.0"/>
<polygon fill="#3399ff" points="800.0,630.0 804.0,630.0 806.7,633.3 808.0,636.7 804.7,637.1 800.7,636.0 798.0,634.0"/>
<polygon fill="#66ffff" points="824.7,641.3 830.0,640.0 834.0,642.0 837.1,648.0 836.7,651.3 834.0,654.7 834.0,661.3 831.3,663.7 828.0,662.7 826.9,658.7 828.0,653.3 825.3,649.3 824.0,645.3"/>
<polygon fill="#3399ff" points="826.7,642.0 831.3,642.0 834.7,646.0 834.0,650.0 831.3,652.0 828.0,650.7 826.0,647.3"/>
<polygon fill="#0000ff" points="829.1,645.3 830.1,645.3 830.1,646.9 829.1,646.9"/>
<polygon fill="#66ffff" points="849.3,642.0 853.3,642.7 854.0,646.7 852.0,651.3 849.3,656.0 847.3,656.7 844.7,654.0 841.6,650.7 841.1,648.0 844.0,644.7"/>
<polygon fill="#66ffff" points="696.7,583.1 699.7,584.7 700.0,588.0 698.0,590.7 694.7,592.0 692.0,590.7 691.1,587.3 692.7,584.7"/>
<polygon fill="#66ffff" points="663.3,608.0 667.3,609.3 669.1,613.3 668.3,618.0 664.7,620.7 660.7,619.3 658.7,616.0 658.3,612.7 660.0,609.3"/>
<polygon fill="#66ffff" points="696.0,624.0 700.0,624.0 699.7,626.0 698.0,628.0 696.3,626.3"/>
<polygon fill="#66ffff" points="575.0,546.0 578.5,547.0 579.5,551.0 579.5,556.0 581.5,560.0 586.0,563.0 591.0,564.0 594.5,562.0 595.5,557.0 598.5,554.5 603.0,554.5 608.0,556.5 612.0,558.0 615.0,561.0 616.5,566.0 619.0,571.0 622.0,576.0 624.0,581.0 625.0,587.0 624.5,594.0 622.5,600.0 619.0,604.5 614.0,607.5 609.0,609.0 604.5,607.5 601.0,604.5 598.5,600.0 597.8,594.0 597.5,589.0 594.0,587.0 589.0,585.5 585.0,582.0 581.0,577.0 578.5,571.0 577.5,565.0 576.0,559.0 572.5,555.0 570.5,551.5 571.0,548.0"/>
<polygon fill="#3399ff" points="603.0,558.0 608.0,559.0 612.0,562.0 614.5,567.0 617.5,572.0 620.5,577.0 622.5,582.0 623.0,588.0 622.5,594.0 620.0,600.0 616.0,604.0 611.0,606.0 606.0,605.5 602.0,602.5 600.0,598.0 599.5,592.0 600.0,586.0 600.5,583.0 597.0,581.0 592.0,581.0 588.0,579.5 585.5,576.0 585.5,572.0 589.0,569.5 594.0,568.5 597.0,565.0 598.5,561.0 600.0,559.0"/>
<polygon fill="#0000ff" points="605.0,561.8 608.5,563.0 610.0,566.5 609.0,570.0 611.0,573.0 614.5,576.5 617.5,581.0 619.0,586.0 618.5,592.0 616.5,597.0 613.0,601.0 609.0,603.8 605.5,603.0 603.0,600.0 602.0,595.0 602.0,590.0 603.5,585.0 606.0,581.0 608.5,577.5 608.0,574.0 605.5,572.0 602.5,570.5 601.0,567.5 601.2,564.0"/>
<polygon fill="#0000ff" points="592.8,574.0 594.0,574.5 593.5,577.5 592.2,578.0 592.0,576.0"/>
<polygon fill="#00ff00" points="606.0,564.0 608.5,565.5 608.8,568.0 606.5,570.0 604.0,569.0 603.0,566.5 604.0,564.5"/>
<polygon fill="#00ff00" points="612.0,579.0 615.0,581.0 617.5,585.0 618.0,590.0 616.5,595.0 613.5,599.0 609.5,601.5 606.0,601.5 603.8,599.0 603.0,595.0 603.5,590.0 605.0,586.0 607.5,582.0 610.0,579.5"/>
<polygon fill="#00c800" points="611.5,585.0 614.0,587.5 614.0,592.0 612.0,596.0 609.0,599.0 606.5,598.5 605.2,595.5 605.5,592.0 607.0,588.5 609.0,586.0"/>
<polygon fill="#66ffff" points="636.0,558.0 639.0,559.0 640.0,563.0 640.0,568.0 643.0,573.0 646.5,578.0 649.0,582.0 648.5,585.5 645.5,587.5 641.5,588.0 638.0,585.5 634.0,581.5 630.0,577.0 627.0,572.0 626.0,567.0 626.5,563.0 629.0,560.5 633.0,559.0"/>
<polygon fill="#3399ff" points="633.0,565.0 635.0,567.0 638.0,571.0 641.0,575.5 643.5,579.5 644.0,582.0 641.5,583.5 638.5,582.5 635.5,579.5 632.0,575.0 629.5,571.0 629.0,567.5 630.5,565.5"/>
<polygon fill="#66ffff" points="618.0,641.1 621.3,642.0 624.7,645.1 621.3,648.0 618.0,646.0 615.3,642.9"/>
<polygon fill="#66ffff" points="602.0,680.0 605.3,681.3 610.7,686.7 615.3,691.3 615.3,694.0 610.7,694.9 606.7,692.7 602.7,688.0 599.7,683.3 599.7,681.1"/>
<polygon fill="#66ffff" points="628.7,687.1 632.7,688.0 638.7,693.3 644.0,700.0 649.3,705.3 651.7,710.0 650.7,714.7 646.7,718.0 642.7,717.3 638.7,714.0 634.7,707.3 630.0,701.3 626.0,696.0 625.3,691.3 626.7,688.0"/>
<polygon fill="#3399ff" points="630.7,692.0 634.7,694.7 640.0,699.3 645.3,704.7 648.7,708.7 648.7,712.7 645.3,715.3 642.0,714.0 638.7,710.0 634.7,704.7 631.3,699.3 630.0,695.3"/>
<polygon fill="#0000ff" points="641.3,706.0 644.7,708.0 646.0,710.7 643.3,711.7 640.7,709.3 639.7,706.9"/>
</g>
</g>
<g stroke="#a6a6a6" stroke-width="1.5" fill="none">
<line x1="271.95" y1="798.00" x2="936.50" y2="798.00" stroke-dasharray="1.8 8.02"/>
<line x1="271.95" y1="730.64" x2="936.50" y2="730.64" stroke-dasharray="1.8 8.02"/>
<line x1="271.95" y1="663.28" x2="936.50" y2="663.28" stroke-dasharray="1.8 8.02"/>
<line x1="271.95" y1="595.92" x2="936.50" y2="595.92" stroke-dasharray="1.8 8.02"/>
<line x1="271.95" y1="528.56" x2="936.50" y2="528.56" stroke-dasharray="1.8 8.02"/>
<line x1="271.95" y1="461.20" x2="936.50" y2="461.20" stroke-dasharray="1.8 8.02"/>
<line x1="271.95" y1="393.84" x2="936.50" y2="393.84" stroke-dasharray="1.8 8.02"/>
<line x1="271.95" y1="326.48" x2="936.50" y2="326.48" stroke-dasharray="1.8 8.02"/>
<line x1="271.95" y1="259.12" x2="936.50" y2="259.12" stroke-dasharray="1.8 8.02"/>
<line x1="271.95" y1="191.77" x2="936.50" y2="191.77" stroke-dasharray="1.8 8.02"/>
<line x1="271.95" y1="124.41" x2="936.50" y2="124.41" stroke-dasharray="1.8 8.02"/>
<line x1="301.01" y1="811.40" x2="301.01" y2="80.25" stroke-dasharray="1.8 7.73"/>
<line x1="358.84" y1="811.40" x2="358.84" y2="80.25" stroke-dasharray="1.8 7.73"/>
<line x1="416.68" y1="811.40" x2="416.68" y2="80.25" stroke-dasharray="1.8 7.73"/>
<line x1="474.51" y1="811.40" x2="474.51" y2="80.25" stroke-dasharray="1.8 7.73"/>
<line x1="532.35" y1="811.40" x2="532.35" y2="80.25" stroke-dasharray="1.8 7.73"/>
<line x1="590.19" y1="811.40" x2="590.19" y2="80.25" stroke-dasharray="1.8 7.73"/>
<line x1="648.02" y1="811.40" x2="648.02" y2="80.25" stroke-dasharray="1.8 7.73"/>
<line x1="705.86" y1="811.40" x2="705.86" y2="80.25" stroke-dasharray="1.8 7.73"/>
<line x1="763.69" y1="811.40" x2="763.69" y2="80.25" stroke-dasharray="1.8 7.73"/>
<line x1="821.53" y1="811.40" x2="821.53" y2="80.25" stroke-dasharray="1.8 7.73"/>
<line x1="879.36" y1="811.40" x2="879.36" y2="80.25" stroke-dasharray="1.8 7.73"/>
</g>
<g clip-path="url(#c)">
<g fill="none" stroke="#000" stroke-width="1.05" stroke-linejoin="round" stroke-linecap="butt">
<polyline points="278.3,79.7 287.7,95.7 295.3,101.9 300.4,111.7 303.7,121.7 322.3,129.4 325.7,139.7 317.6,136.1 310.7,141.4 317.3,147.7 322.4,155.7 317.3,163.4 306.9,161.7 298.7,165.7 291.6,159.7 278.0,171.4 294.4,179.0 308.7,191.4 318.7,189.7 325.7,195.7 327.3,206.7 327.3,222.0 324.4,233.3 332.7,229.6 329.3,239.7 320.7,243.6 314.0,249.3 303.7,251.7 300.4,261.1 305.3,271.3 300.7,278.9 293.3,285.3 288.3,293.3 293.3,301.3 291.6,313.3 293.3,325.3 298.9,333.3 305.3,353.3 330.9,393.1 348.0,400.9 359.3,400.9 380.7,404.9 390.0,409.6 402.7,420.7 428.7,461.1 437.3,465.1 444.0,445.3 452.7,441.1 454.7,429.3 464.7,431.3 475.3,415.3 481.7,409.3 471.6,411.3 468.0,400.0 468.0,399.3 468.4,385.1 456.0,385.1 448.7,379.3 439.1,377.1 430.7,373.1 420.7,357.3 412.0,351.3 406.3,314.9 399.3,309.3 406.7,313.7 416.7,331.3 425.3,335.3 435.6,333.3 440.9,341.3 451.1,343.3 456.4,351.3 464.4,354.9 470.0,363.3 478.7,369.1 487.3,373.1 497.3,375.3 488.9,379.3 498.7,377.3 506.0,383.3 507.6,395.3 514.7,401.3 524.0,416.0 524.7,416.7 524.9,431.3 519.6,439.1 518.0,451.1 524.7,457.1 529.7,465.1 536.7,470.7 544.0,479.3 553.7,477.1 564.0,479.1 572.7,483.3 590.7,486.7 595.3,488.3 610.3,494.9 620.7,511.3 630.7,513.1 647.3,520.7 658.0,524.7 670.0,534.9 672.0,536.4 677.6,544.9 685.3,548.7 692.7,554.7 698.0,562.7 705.3,569.1 710.0,578.7 716.3,584.0 722.4,592.7 725.6,602.7 722.0,612.7 723.3,624.7 728.7,632.7 721.3,638.7 717.1,646.7 726.7,644.7 718.9,648.0 718.7,648.3 716.7,660.7 702.9,672.7 699.7,682.7 709.6,698.7 723.3,710.0 729.1,718.9 737.3,722.7 749.3,720.7 783.7,736.7 788.7,729.1 789.1,714.0 785.7,705.1 780.0,696.7 763.3,689.1 757.7,680.0 751.3,660.7 773.1,656.7 783.3,672.7 801.3,680.7 810.7,682.7 817.7,688.4 806.0,688.9 811.3,696.7 821.1,698.7 812.7,702.7 818.0,711.3 821.3,722.7 816.7,730.0 814.4,742.7 814.7,742.7 828.7,754.7 837.3,758.7 844.7,765.3 853.6,780.0 860.7,799.3 860.7,814.4 867.3,814.4 869.3,802.7 866.4,792.0 865.3,779.3 867.3,766.7 872.7,758.4 890.0,750.4 900.7,748.4 920.7,752.7 930.7,757.1 938.0,758.7"/>
<polyline points="326.3,79.0 332.9,85.7 349.6,93.7 354.9,101.7 372.0,109.9 392.0,113.7 400.7,117.7 408.0,123.7 418.0,125.7 430.0,125.4 440.7,127.9 457.7,135.7 469.6,135.7 478.3,139.7 488.0,137.9 495.7,131.7 499.1,121.4 497.3,109.9 499.1,97.9 496.0,87.7 490.0,79.0"/>
<polyline points="450.3,101.4 456.3,109.9 447.6,113.7 450.3,101.4"/>
<polyline points="422.0,343.3 432.4,345.6 437.3,353.3 427.3,355.3 420.4,349.1 422.0,343.3"/>
<polyline points="322.3,129.4 325.3,120.3 332.0,111.0 334.9,101.7 344.7,99.7 358.7,111.3 367.3,116.1 387.3,119.7 473.3,159.4 482.0,155.7 496.0,143.7 504.4,139.7 511.3,133.4 519.6,129.7 526.7,135.7 538.3,135.7 545.7,141.7 553.7,145.7 560.7,153.7 569.1,157.7 579.6,147.7 582.7,157.7 588.0,165.9 605.3,173.7 608.7,183.0 610.7,195.3 622.0,195.6 631.3,199.6 639.7,195.3 648.7,200.0 662.0,211.6 670.7,210.0 680.7,205.3 689.3,199.7 698.7,197.6 706.7,194.0 709.2,192.8 715.4,187.4 714.0,181.2 713.4,176.0 712.3,169.6 711.8,164.0 712.6,161.6"/>
<polyline points="673.7,79.0 674.9,89.7 677.3,104.3 680.7,116.3 684.7,128.3 690.0,139.0 700.0,153.7 700.7,157.9 703.0,163.5 706.5,163.0 712.3,161.4 716.5,163.5 721.2,170.1 724.0,177.1 725.2,183.2 728.8,191.6"/>
<polyline points="723.8,183.6 723.6,192.0 723.2,198.4 720.6,207.2 728.4,203.4 733.3,210.0 736.0,224.0 742.0,242.7 748.0,251.3 750.7,261.3 756.0,269.3 759.3,279.3 784.7,318.9 792.4,325.3 817.3,365.3 824.9,371.3 835.1,369.3 838.3,379.3 869.0,427.0 878.0,431.5 880.5,440.0 886.0,449.0 895.0,453.0 915.5,457.2 920.5,465.0 925.5,469.0 938.5,479.3"/>
<polyline points="925.5,469.0 920.5,471.0 917.5,481.0 908.5,485.0 895.0,473.5 889.5,465.5 881.5,461.0 871.2,463.2 865.8,471.3 872.7,483.5 872.5,485.2 867.0,485.2 858.5,489.3 859.0,489.0 854.0,497.2 854.0,581.0"/>
<polyline points="855.1,582.7 865.3,584.7 874.7,589.1 881.3,597.1 890.0,601.1 894.9,609.1 892.0,618.7 884.7,625.1 867.7,632.4 864.3,642.4 857.3,648.7 860.0,658.7 871.1,674.9 873.3,688.0 874.9,698.7 874.7,712.7 870.7,719.3 866.0,724.0 861.3,726.9 852.0,728.7 847.3,736.0 839.3,742.4 831.7,746.4 837.3,753.3 844.7,759.6 854.0,764.9 856.7,778.0 862.7,796.7 862.4,811.3 860.7,814.4"/>
</g>
</g>
<rect x="262.75" y="79.25" width="674.75" height="740.95" fill="none" stroke="#000" stroke-width="1.5"/>
<g stroke="#000" stroke-width="1.3" fill="none">
<line x1="257" y1="797.75" x2="262.75" y2="797.75"/>
<line x1="257" y1="730.39" x2="262.75" y2="730.39"/>
<line x1="257" y1="663.03" x2="262.75" y2="663.03"/>
<line x1="257" y1="595.67" x2="262.75" y2="595.67"/>
<line x1="257" y1="528.31" x2="262.75" y2="528.31"/>
<line x1="257" y1="460.95" x2="262.75" y2="460.95"/>
<line x1="257" y1="393.59" x2="262.75" y2="393.59"/>
<line x1="257" y1="326.23" x2="262.75" y2="326.23"/>
<line x1="257" y1="258.87" x2="262.75" y2="258.87"/>
<line x1="257" y1="191.52" x2="262.75" y2="191.52"/>
<line x1="257" y1="124.16" x2="262.75" y2="124.16"/>
<line x1="301.31" y1="820.20" x2="301.31" y2="825.6"/>
<line x1="359.14" y1="820.20" x2="359.14" y2="825.6"/>
<line x1="416.98" y1="820.20" x2="416.98" y2="825.6"/>
<line x1="474.81" y1="820.20" x2="474.81" y2="825.6"/>
<line x1="532.65" y1="820.20" x2="532.65" y2="825.6"/>
<line x1="590.49" y1="820.20" x2="590.49" y2="825.6"/>
<line x1="648.32" y1="820.20" x2="648.32" y2="825.6"/>
<line x1="706.16" y1="820.20" x2="706.16" y2="825.6"/>
<line x1="763.99" y1="820.20" x2="763.99" y2="825.6"/>
<line x1="821.83" y1="820.20" x2="821.83" y2="825.6"/>
<line x1="879.66" y1="820.20" x2="879.66" y2="825.6"/>
</g>
<text class="ks" font-size="16.7" transform="scale(0.915 1)" x="239.02 248.99 256.02 264.84" y="804.0">8.1N</text>
<text class="ks" font-size="16.7" transform="scale(0.915 1)" x="239.02 248.99 255.35 264.84" y="736.7">8.4N</text>
<text class="ks" font-size="16.7" transform="scale(0.915 1)" x="239.02 248.99 255.29 264.84" y="669.3">8.7N</text>
<text class="ks" font-size="16.7" transform="scale(0.915 1)" x="255.31 264.84" y="602.0">9N</text>
<text class="ks" font-size="16.7" transform="scale(0.915 1)" x="239.02 248.99 255.35 264.84" y="534.6">9.3N</text>
<text class="ks" font-size="16.7" transform="scale(0.915 1)" x="239.02 248.99 255.24 264.84" y="467.3">9.6N</text>
<text class="ks" font-size="16.7" transform="scale(0.915 1)" x="239.02 248.99 255.31 264.84" y="399.9">9.9N</text>
<text class="ks" font-size="16.7" transform="scale(0.915 1)" x="228.91 239.02 248.99 255.30 264.84" y="332.5">10.2N</text>
<text class="ks" font-size="16.7" transform="scale(0.915 1)" x="228.91 239.02 248.99 255.32 264.84" y="265.2">10.5N</text>
<text class="ks" font-size="16.7" transform="scale(0.915 1)" x="228.91 239.02 248.99 255.30 264.84" y="197.8">10.8N</text>
<text class="ks" font-size="16.7" transform="scale(0.915 1)" x="228.91 239.73 248.99 256.02 264.84" y="130.5">11.1N</text>
<text class="k" font-size="19.4" transform="scale(0.866 1)" x="321.28 332.71 340.79 349.91 361.46" y="840.6">85.8W</text>
<text class="k" font-size="19.4" transform="scale(0.866 1)" x="388.06 399.49 407.58 416.70 428.24" y="840.6">85.5W</text>
<text class="k" font-size="19.4" transform="scale(0.866 1)" x="454.85 466.28 474.36 483.48 495.03" y="840.6">85.2W</text>
<text class="k" font-size="19.4" transform="scale(0.866 1)" x="521.63 533.06 541.14 550.26 561.81" y="840.6">84.9W</text>
<text class="k" font-size="19.4" transform="scale(0.866 1)" x="588.41 599.84 607.93 616.96 628.59" y="840.6">84.6W</text>
<text class="k" font-size="19.4" transform="scale(0.866 1)" x="655.20 666.63 674.71 683.84 695.38" y="840.6">84.3W</text>
<text class="k" font-size="19.4" transform="scale(0.866 1)" x="730.59 742.01 753.56" y="840.6">84W</text>
<text class="k" font-size="19.4" transform="scale(0.866 1)" x="788.77 800.20 808.28 817.41 828.95" y="840.6">83.7W</text>
<text class="k" font-size="19.4" transform="scale(0.866 1)" x="855.55 866.99 875.07 884.19 895.73" y="840.6">83.4W</text>
<text class="k" font-size="19.4" transform="scale(0.866 1)" x="922.34 933.77 941.85 951.28 962.52" y="840.6">83.1W</text>
<text class="k" font-size="19.4" transform="scale(0.866 1)" x="989.12 1000.55 1008.64 1017.76 1029.30" y="840.6">82.8W</text>
<g stroke="#000" stroke-width="1.2" stroke-linejoin="miter">
<polygon points="1057.80,767.30 1079.70,767.30 1068.75,810.50" fill="#fff"/>
<rect x="1057.80" y="724.96" width="21.90" height="42.34" fill="#66ffff"/>
<rect x="1057.80" y="682.62" width="21.90" height="42.34" fill="#3399ff"/>
<rect x="1057.80" y="640.28" width="21.90" height="42.34" fill="#0000ff"/>
<rect x="1057.80" y="597.94" width="21.90" height="42.34" fill="#00ff00"/>
<rect x="1057.80" y="555.60" width="21.90" height="42.34" fill="#00c800"/>
<rect x="1057.80" y="513.26" width="21.90" height="42.34" fill="#009900"/>
<rect x="1057.80" y="470.92" width="21.90" height="42.34" fill="#ffff00"/>
<rect x="1057.80" y="428.58" width="21.90" height="42.34" fill="#ffcc00"/>
<rect x="1057.80" y="386.24" width="21.90" height="42.34" fill="#ff6600"/>
<rect x="1057.80" y="343.90" width="21.90" height="42.34" fill="#ff0000"/>
<rect x="1057.80" y="301.56" width="21.90" height="42.34" fill="#cc3300"/>
<rect x="1057.80" y="259.22" width="21.90" height="42.34" fill="#990000"/>
<rect x="1057.80" y="216.88" width="21.90" height="42.34" fill="#ff00ff"/>
<rect x="1057.80" y="174.54" width="21.90" height="42.34" fill="#9933cc"/>
<rect x="1057.80" y="132.20" width="21.90" height="42.34" fill="#f5f5f5"/>
<polygon points="1057.80,132.20 1079.70,132.20 1068.75,89.00" fill="#aaaaaa"/>
</g>
<text class="cb" font-size="19.75" letter-spacing="-0.44" transform="translate(1085.4 774.7) scale(1.08 1)">3.5</text>
<text class="cb" font-size="19.75" letter-spacing="-0.44" transform="translate(1085.4 732.4) scale(1.08 1)">7</text>
<text class="cb" font-size="19.75" letter-spacing="-0.44" transform="translate(1085.4 690.0) scale(1.08 1)">12.5</text>
<text class="cb" font-size="19.75" letter-spacing="-0.44" transform="translate(1085.4 647.7) scale(1.08 1)">15</text>
<text class="cb" font-size="19.75" letter-spacing="-0.44" transform="translate(1085.4 605.3) scale(1.08 1)">20</text>
<text class="cb" font-size="19.75" letter-spacing="-0.44" transform="translate(1085.4 563.0) scale(1.08 1)">25</text>
<text class="cb" font-size="19.75" letter-spacing="-0.44" transform="translate(1085.4 520.7) scale(1.08 1)">30</text>
<text class="cb" font-size="19.75" letter-spacing="-0.44" transform="translate(1085.4 478.3) scale(1.08 1)">40</text>
<text class="cb" font-size="19.75" letter-spacing="-0.44" transform="translate(1085.4 436.0) scale(1.08 1)">50</text>
<text class="cb" font-size="19.75" letter-spacing="-0.44" transform="translate(1085.4 393.6) scale(1.08 1)">60</text>
<text class="cb" font-size="19.75" letter-spacing="-0.44" transform="translate(1085.4 351.3) scale(1.08 1)">75</text>
<text class="cb" font-size="19.75" letter-spacing="-0.44" transform="translate(1085.4 309.0) scale(1.08 1)">90</text>
<text class="cb" font-size="19.75" letter-spacing="-0.44" transform="translate(1085.4 266.6) scale(1.08 1)">100</text>
<text class="cb" font-size="19.75" letter-spacing="-0.44" transform="translate(1085.4 224.3) scale(1.08 1)">120</text>
<text class="cb" font-size="19.75" letter-spacing="-0.44" transform="translate(1085.4 181.9) scale(1.08 1)">150</text>
<text class="cb" font-size="19.75" letter-spacing="-0.44" transform="translate(1085.4 139.6) scale(1.08 1)">200</text>
<text class="t" font-size="30.6" x="130.2 136.8 161.0 187.9 202.9 220.8 238.3 257.6 276.8 296.3 302.6 320.9 345.5 355.1 373.4 397.5 410.3 429.3 442.0 460.0 476.0 483.8 501.8 510.3 521.8 540.2 556.5 564.6 581.7 604.7 616.1 636.7 652.3 668.7 698.2 716.8 725.1 743.1 761.8 783.9 796.2 813.8 837.0 848.8 872.4 884.7 903.9 921.9 934.4 952.7 972.2 986.2 998.1 1027.2 1056.7" y="30.4">IMN/SARAPIQUI_5 <tspan font-size="29.7">Precipitacion Acumulada en</tspan> 6 <tspan font-size="29.3">horas (mm)</tspan></text>
<text class="t" font-size="30.5" x="462.0 479.9 499.5 518.8 545.1 563.2 581.6 607.4 626.1 644.9 667.5 681.2 699.9 718.6" y="61.8">2026-01-31 18Z</text>
<text class="f" font-size="21.9" transform="scale(1.08 1)" x="302.7 309.9 324.4 336.6 345.8 352.6 361.9 376.5 385.8 403.3 411.3 430.8 445.0 454.2 468.3 482.4 492.0 506.1 512.8 526.9 540.7 547.4 560.1 580.1 588.1 605.3 619.5 632.3 639.2 653.4 668.1 682.3 693.9 701.9 718.4 732.9 745.5 755.3 773.4 781.4 798.0 805.5 818.9" y="876.5">Instituto Meteorologico Nacional Costa Rica</text>
</svg>
</body></html>
